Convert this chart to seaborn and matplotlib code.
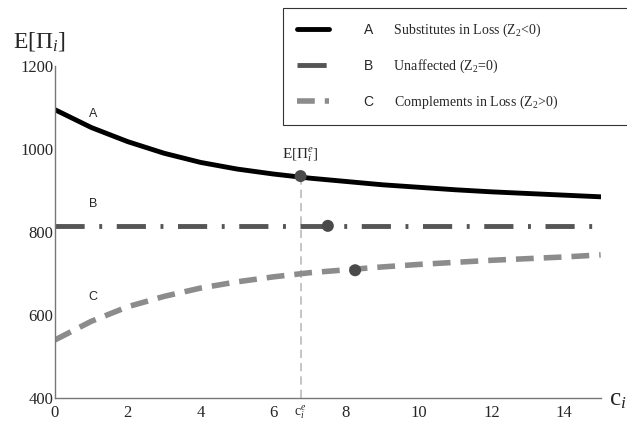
import numpy as np
import pandas as pd
import seaborn as sns
from matplotlib import pyplot as plt
from matplotlib.ticker import MultipleLocator

#--- data
c_vals = [0, 1, 2, 3, 4, 5, 6, 7, 8, 9, 10, 11, 12, 13, 14, 15]
subst = [1095, 1052, 1018, 990, 968, 952, 940, 930, 922, 914, 908, 902, 897, 893, 889, 885]
unaff = [815] * 16
compl = [540, 585, 620, 645, 665, 680, 692, 702, 709, 716, 722, 727, 732, 736, 740, 745]

dot_x = [6.75, 7.5, 8.25]
dot_y = [935, 815, 708]
c_e = 6.75

letters = ['A', 'B', 'C']
names = [r'Substitutes in Loss (Z$_2$<0)', r'Unaffected (Z$_2$=0)',
         r'Complements in Loss (Z$_2$>0)']
letter_pos = [(1.05, 1084), (1.05, 867), (1.05, 643)]

#--- style
sns.set_style('white')
plt.rcParams['font.family'] = ['Liberation Serif', 'DejaVu Serif']
plt.rcParams['mathtext.fontset'] = 'custom'
plt.rcParams['mathtext.rm'] = 'Liberation Serif'
plt.rcParams['mathtext.it'] = 'Liberation Serif:italic'
plt.rcParams['mathtext.sf'] = 'Liberation Sans'

fig = plt.figure(figsize=(6.27, 4.24), dpi=100)
ax = fig.add_axes([0.0877, 0.0613, 0.8703, 0.7827])

df = pd.DataFrame({'c': c_vals, 'A': subst, 'B': unaff, 'C': compl})

sns.lineplot(data=df, x='c', y='A', color='black', linewidth=3.5, ax=ax,
             label=r'$\mathsf{A}\qquad\,$' + names[0])
sns.lineplot(data=df, x='c', y='B', color='#555555', linewidth=3.5, ax=ax,
             label=r'$\mathsf{B}\qquad\,$' + names[1])
ax.lines[-1].set_dashes((6, 3, 0.6, 3))
sns.lineplot(data=df, x='c', y='C', color='#8c8c8c', linewidth=4, ax=ax,
             label=r'$\mathsf{C}\qquad\,$' + names[2])
ax.lines[-1].set_dashes((3.2, 1.8))

# vertical guide at c_i^e
ax.vlines(c_e, 400, dot_y[0], color='#bbbbbb', linewidth=1.2,
          linestyles=(0, (5, 3)), zorder=1)

sns.scatterplot(x=dot_x, y=dot_y, color='#4a4a4a', s=75, edgecolor='none',
                zorder=5, ax=ax, legend=False)

for l, (px, py) in zip(letters, letter_pos):
    ax.text(px, py, l, family='Liberation Sans', fontsize=9, ha='center', va='center')

ax.text(c_e, 962, r'E[$\Pi_i^e$]', fontsize=11, ha='center', va='bottom')

#--- axes
ax.set_xlim(0, 15)
ax.set_ylim(400, 1200)
ax.set_xticks(range(0, 15, 2))
ax.set_yticks(range(400, 1201, 200))
ax.xaxis.set_minor_locator(MultipleLocator(0.5))
ax.yaxis.set_minor_locator(MultipleLocator(50))
ax.tick_params(which='major', direction='in', length=6, width=0.8,
               color='#777777', labelsize=12)
ax.tick_params(which='minor', direction='in', length=3.5, width=0.8,
               color='#777777')
ax.tick_params(axis='x', pad=5)
ax.tick_params(axis='y', pad=1)
ax.set_xlabel('')
ax.set_ylabel('')
for s in ['top', 'right']:
    ax.spines[s].set_visible(False)
for s in ['left', 'bottom']:
    ax.spines[s].set_color('#777777')
    ax.spines[s].set_linewidth(1)

ax.text(c_e, 388, r'c$_i^e$', fontsize=10, ha='center', va='top')
fig.text(0.02, 0.875, r'E[$\Pi_i$]', fontsize=17, ha='left', va='bottom')
fig.text(0.972, 0.03, r'c$_i$', fontsize=18, ha='left', va='bottom')

leg = ax.legend(loc='upper left', bbox_to_anchor=(0.451, 0.981, 0.56, 0),
                bbox_transform=fig.transFigure, mode='expand', fontsize=10,
                frameon=True, fancybox=False, edgecolor='black',
                handlelength=2.3, handletextpad=2.5, labelspacing=1.35,
                borderpad=1.0, borderaxespad=0)
leg.get_frame().set_linewidth(0.8)

plt.savefig('out.png', dpi=100)
plt.close()
